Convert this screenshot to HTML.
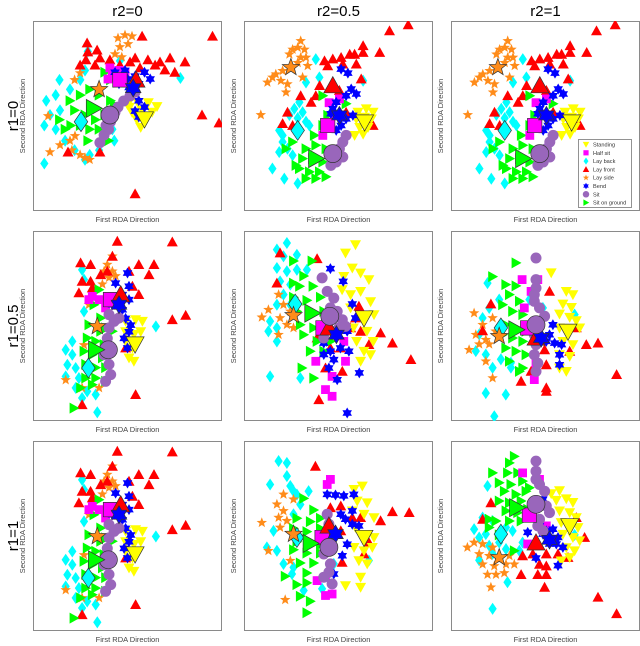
<!DOCTYPE html>
<html><head><meta charset="utf-8"><style>
html,body{margin:0;padding:0;background:#fff;}
svg{display:block;font-family:"Liberation Sans",sans-serif;}
</style></head><body>
<svg id="chart" width="640" height="646" viewBox="0 0 640 646" xmlns="http://www.w3.org/2000/svg"></svg>
<script>
// ---- classes ----
const classNames = ["Standing","Half sit","Lay back","Lay front","Lay side","Bend","Sit","Sit on ground"];
const classKeys = ["standing","halfsit","layback","layfront","layside","bend","sit","sitground"];
const colTitles = ["r2=0","r2=0.5","r2=1"];
const rowTitles = ["r1=0","r1=0.5","r1=1"];

// ---- dataset A: r1=0, r2=0 ----
const A_standing=[[50,56],[55.5,57],[61,57],[65.6,55],[52.4,52],[57.7,53],[63,52],[55,48],[60,48],[57,44],[51,54.7]];
const A_halfsit=[[42,71.6],[45.5,74],[48.7,73],[40.7,75.3],[39.7,69.5]];
const A_layback=[[7,58],[12,61],[14.3,53],[9,50.5],[6,45],[12,43],[17,37],[22,32],[27.5,27],[30,29.5],[6,25],[25,69],[27.5,74],[29,84],[46,79],[43,37],[35,32],[14,69],[19.6,64],[42,43],[78,70]];
const A_layfront=[[28.6,88.4],[29,83.7],[33.9,84.7],[28,79.5],[24.9,76.8],[32.8,76.8],[35.4,80.5],[40.7,79.5],[46,76.8],[51.3,78.4],[54,80.5],[56.6,75.3],[60.8,79.5],[64.6,76.8],[67.2,78.4],[69.8,74.2],[72.5,80.5],[80.4,78.4],[75,73],[57.7,92],[95,92],[89.4,50.5],[98.4,46.3],[54,9],[35.4,31],[18.5,31]];
const A_layside=[[45,91],[48.7,92.6],[52.4,92],[46,86.3],[50.3,87.9],[43.4,82.6],[47,81],[8,50],[24.9,72.6],[22,69],[19.6,37],[22.2,39.5],[9,31],[24.9,29.5],[27.5,28],[30,27],[20.6,32],[14.3,34.7]];
const A_bend=[[43.4,73],[48.7,74],[54,71],[59,73],[56,67],[50.8,65],[45.5,67],[56,58],[59,54.7],[54,52.6],[62,69.5],[50,69.5],[56,49.5]];
const A_sit=[[35.4,36],[37.6,40],[40,43],[41,47],[42,50.5],[45,54.7],[48,57.9],[51.3,60.5],[54,62.6],[38.6,45],[43.4,52]];
const A_sitground=[[19.6,58],[25,61],[30,64],[35,61],[41,58],[22,53],[27.5,50.5],[33,48],[38,50.5],[25,45],[30,43],[35,43],[20,45],[41,69],[38,73],[43,56],[17,43],[40,37],[29,37],[14,48]];
const A_centroids=[[59,48.4],[46,69],[25.4,47],[54.5,69],[35,64],[53,64.7],[40.7,50.5],[32,54]];

// ---- dataset B: r1=0, r2=0.5 and r2=1 ----
const B_standing=[[60.3,52],[64.7,53.8],[68.3,52],[59.4,48.5],[63.8,49.4],[67.4,48.5],[61.2,44],[65.6,44],[63,40.5],[58.5,39.8]];
const B_halfsit=[[45,57],[50.5,59],[41.7,39.8],[48.8,50.3]];
const B_layback=[[38,79.9],[39.9,70.3],[32.8,67.7],[29.3,57.2],[26.6,53.8],[31,52],[24,50.6],[28.4,48.9],[32.8,47],[18.6,42.4],[20.4,36.3],[23,32.8],[18.6,31],[25.7,29.3],[15,22.3],[21.3,17],[28.4,14.5],[63,68.6],[34.6,45],[20.4,39.8]];
const B_layfront=[[42.6,79],[47,80],[51.4,80.8],[55.9,82.5],[58.5,82.5],[63,83.4],[63,87],[71.8,83.4],[44.3,76.4],[52.3,77.3],[59.4,77.3],[62,69.5],[40,66],[38,60.7],[30,60.7],[35.5,57.2],[23,52],[20.4,46],[25.7,45],[68.3,45],[65.6,48.5],[54,52],[77,94.8],[86.9,98],[50.5,63.4]];
const B_layside=[[30,89.5],[28.4,86],[32,85],[25.7,85],[24,82.5],[30,80.8],[32.8,80.8],[28.4,78],[33.7,76.4],[20.4,73.8],[16.8,72],[15,70.3],[19.5,68.6],[23,66.8],[22.2,62.5],[31,70.3],[12.4,67.7],[8.9,50.6]];
const B_bend=[[51.4,74.7],[55,72.6],[56.7,64.2],[59.4,61.6],[48.8,57.2],[46,51.2],[50.5,50.3],[54,48.5],[57.6,50.3],[51.4,45],[48.8,42.4],[47,53.8],[54,60.7]];
const B_sit=[[50.5,32.8],[52.3,36.3],[54,39.8],[52.3,28.4],[48.8,25.8],[46,24]];
const B_sitground=[[32.8,32.8],[38,34.6],[43.4,32.8],[31,27.6],[36.3,27.6],[41.7,25.8],[29.3,22.3],[34.6,20.6],[39.9,20.6],[32.8,17.1],[38,17.1],[43.4,18],[27.5,24],[37.2,39.8],[41.7,45],[22.2,32.8],[25.7,36.3],[44.3,50.3],[41.7,60.7],[54,56.4]];
const B_centroids=[[63.8,46.8],[44.3,45],[28.4,42.4],[47,66],[24.8,75.6],[50.5,50.3],[47,30.2],[38,27.6]];

// ---- dataset C: r1=0.5 / r1=1, r2=0 ----
const C_standing=[[49,52.5],[54.3,53.3],[57.9,52.5],[49,47],[53.4,45.6],[57,47],[49,42],[52.6,38.4],[56,42],[50.8,33.2],[53.4,31.4]];
const C_halfsit=[[31.4,65.6],[35,63.9],[38.4,59.5],[29.6,63.9]];
const C_layback=[[26,79.6],[27,74.4],[27,57.7],[65,49.8],[20.8,41.9],[17.3,37.5],[20.8,34.9],[18.2,29.6],[22.6,27.9],[17.3,23.5],[24.3,22.6],[22.6,17.4],[28.7,15.6],[26,12.1],[33.2,13.9],[34,4.6]];
const C_layfront=[[44.6,94.6],[73.7,94.2],[25.2,83.2],[30.5,82.3],[42,86.7],[39.3,78.8],[35.8,77],[26,73.5],[30.5,73.5],[24.3,67.4],[31.4,70],[50.8,78.8],[56,82.3],[61.4,77],[64,82.3],[52.6,70.9],[56,66.5],[73.7,53.3],[80.8,55.6],[54.3,13.9],[26,8.6],[49,38.4]];
const C_layside=[[42,86.7],[39.3,82.3],[37.6,78.8],[42,78.8],[40.2,75.4],[36.7,72],[43.7,76.3],[27,40],[17.3,21.6],[26,17.4],[35,17.4],[29.6,61.2]];
const C_bend=[[50,77.9],[43.7,72.6],[50.8,70.9],[47.3,66.5],[50.8,63.9],[42,61.2],[47.3,58.6],[49,54],[51.7,50.5],[48.2,43.5],[50.8,47],[50,38.4]];
const C_sit=[[40.2,56],[42.9,52.5],[40.2,49],[39.3,43.5],[40,37.7],[37.6,34.9],[40.2,29.8],[41.1,24.4],[38.4,20.9],[43.7,53.3],[45.5,54.2]];
const C_sitground=[[34.9,69.1],[32.3,61.2],[35.8,54.2],[29.6,50.7],[35.8,47.2],[38.4,49],[28.7,43.7],[33.2,42],[37.6,40.2],[27,36.7],[31.4,34.9],[36.7,33.2],[27.9,29.8],[33.2,28.1],[38.4,28.1],[27.9,22.6],[33.2,22.6],[38.4,20.9],[25.2,17.4],[31.4,19.1],[21.7,6.8],[42,47.2]];
const C_centroids=[[54,40.5],[41,63.9],[29.3,27.9],[46.4,66.5],[34,49.8],[45.5,61.2],[39.9,37.5],[33.2,37.5]];

// ---- dataset D: r1=0.5, r2=0.5 ----
const D_standing=[[59,92.8],[53.7,88.4],[57.3,80.5],[61.7,77.9],[66.1,74.4],[52.8,76.1],[51.9,69.1],[56.4,66.5],[61.7,68.2],[67,62.8],[56.4,59.5],[68.8,56],[57.9,49],[65,47.2],[59.6,41.9],[68.4,41.9],[63.5,36.7],[61.7,31.4],[67,34.9]];
const D_halfsit=[[40.4,48],[52.8,41.9],[53.7,31.4],[38,31.4],[43.1,16.5],[46.6,13],[46.6,23.5]];
const D_layback=[[22.7,93.7],[17.4,90.2],[28,87.5],[20.9,86.7],[17.4,80.5],[22.7,78.8],[28,79.6],[33.3,79.6],[19.1,73.5],[24.5,71.8],[20.9,66.5],[17.4,61.2],[24.5,61.2],[13.8,52.5],[17.4,49],[12.9,47.2],[17.4,41.9],[13.8,23.5],[29.8,22.6]];
const D_layfront=[[19.1,88.4],[38.7,85.4],[17.4,72.6],[47.5,45.4],[56.4,49],[60.8,60.4],[61.7,47.2],[66.1,40.2],[72.3,46.3],[78.5,41],[88.3,32.3],[51,38.4],[45.7,38.4],[43.1,27.9],[52,26.1],[39.6,11.2],[38.7,43.7],[59,54.2]];
const D_layside=[[18.3,66.5],[20.9,61.2],[24.5,57.7],[19.1,54.2],[22.7,50.7],[12.9,58.6],[9.4,54.6],[18.3,45.4],[26.2,49]];
const D_bend=[[45.7,80.2],[52.5,73.5],[57.3,61.6],[59,54.2],[54.6,47.2],[49.3,45.4],[42.2,41],[45.7,36.7],[51,38.4],[55.5,36.7],[47.5,32.3],[42.2,35],[44.9,27.9],[49.3,21.7],[61,25.3],[54.6,4.2],[40.4,47.2]];
const D_sit=[[41.3,75.3],[44,68.2],[47.5,64.7],[45.7,59.5],[49.3,57.7],[52,53.3],[50.2,49],[53.7,49.8],[42.2,43.7]];
const D_sitground=[[26.2,84.2],[36,84.2],[31.6,76.3],[26.2,72.6],[29.4,70.9],[36.5,70.9],[26.2,65.1],[33.3,63.5],[40.4,65.1],[28,57.7],[35.1,56],[42.2,57.7],[45.7,52.5],[29.8,50.7],[36.9,49],[44,47.2],[31.6,45.4],[38.7,41.9],[45.7,41.9],[35.1,36.7],[42.2,36.7],[30.7,27.9],[36.9,22.6]];
const D_centroids=[[63.5,54.2],[41.8,49],[27.1,61.6],[44.9,49],[26.2,55.6],[48.9,45.4],[45.4,55.1],[36,56.8]];

// ---- dataset E: r1=0.5, r2=1 ----
const E_standing=[[53,78],[61,68.2],[64.5,66.5],[59.2,61.6],[63.7,59.8],[57.4,56.3],[62.8,54.6],[66.3,52.8],[57.4,49],[68.1,49],[59.2,41.9],[64.5,40.2],[57.4,34.9],[62.8,34],[61,26.1],[57.4,27.9]];
const E_halfsit=[[37.6,74.4],[45.9,74.4],[42.4,68.2],[45,30.5],[44.1,21.8],[38.8,59.5]];
const E_layback=[[19.3,72.6],[25.5,63.9],[20.2,59.5],[16.7,54.2],[14.9,45.6],[13.1,36.8],[18.4,35],[26.4,32.5],[22,28],[31.7,30.7],[41.5,63.9],[48.6,59.5],[65.4,56],[18.4,14.7],[29,13.9],[22.9,2.5],[31.7,28.1]];
const E_layfront=[[52.1,68.2],[21.1,61.6],[16.7,47.5],[49.5,37.5],[62.8,36.7],[66.3,49],[71.6,40.2],[77.8,41],[87.6,24.4],[50.4,29.6],[42.4,26.1],[37.1,20.9],[50.4,15.6],[50.4,17.4]];
const E_layside=[[12.2,56.8],[16.7,50.7],[22,54.2],[13.1,45.4],[18.4,42.8],[23.6,47.2],[20.2,40.4],[14.9,40.4],[9.6,37.5],[18.4,31.4],[22,22.6]];
const E_bend=[[53.9,50.7],[52.1,45.4],[54.8,41],[58.5,40.2],[50.4,41.9],[57.4,34.9],[57.4,29.6]];
const E_sit=[[45,85.8],[45,74.4],[45,70],[44.1,66.5],[44.1,63],[46.8,59.5],[49.5,55.1],[44.1,45.4],[45,40.2],[44.1,34.9],[45,26.1],[45.9,30.5]];
const E_sitground=[[34.4,83.2],[22,76],[29,71.8],[34.4,71.1],[30.9,66.5],[36.2,63],[27.3,61.2],[32.6,57.7],[38,56],[29,50.7],[34.4,49],[39.7,47.2],[27.3,45.4],[32.6,43.7],[38,41.9],[29,38.4],[34.4,36.7],[39.7,34.9],[30.9,31.4],[36.2,26.1],[38,27.9]];
const E_centroids=[[61.9,47.2],[40.6,49],[26.4,49],[45,43.7],[25.5,44.6],[47.7,43.7],[45,50.7],[34.4,48]];

// ---- dataset F: r1=1, r2=0.5 ----
const F_standing=[[58.2,74.5],[62.6,76.3],[59.9,68.4],[65.2,67.5],[57.3,63.2],[63.5,61.4],[68.8,59.7],[59,54.5],[68.8,49.2],[58.2,44],[63.5,42.2],[67.9,44],[60.8,37],[65.2,35.3],[61.7,28.3],[61.7,23],[53.7,23.9]];
const F_halfsit=[[45.7,79.8],[44,77.1],[38.7,26.5],[43.1,28.3],[43.1,18.7],[46.6,19.5]];
const F_layback=[[18.3,89.4],[22.7,88.5],[22.7,81.5],[13.8,77.1],[24.5,76.3],[26.2,73.6],[28,71.8],[34.2,73.6],[29.8,66.6],[26.2,61.4],[15.6,52.7],[12.1,44],[17.4,42.2],[20.9,35.3],[26.2,33.5],[25.4,30],[31.6,21.3],[41.3,22.2],[47.5,35.3],[66.1,37.1]];
const F_layfront=[[37.8,86.7],[45.7,64.9],[51.2,65.8],[57.3,59.7],[61.7,59.7],[72.3,58],[78.5,62.8],[87.4,62.3],[51.9,36.1],[63.5,40.5],[66.1,46.6],[51.2,52.7]];
const F_layside=[[20.9,71.9],[17.4,66.7],[20.9,63.2],[18.3,59.7],[22.7,58],[19.1,54.5],[9.4,57],[24.5,37],[12.9,42.2],[21.8,16.4],[26.2,69.3]];
const F_bend=[[44,71.9],[48.4,71.6],[52.8,71.1],[58.1,71.9],[57.3,63.2],[60.8,55.3],[53.7,58.8],[54.6,45.7],[52,39.6],[47.5,30],[57.3,56.2],[51.2,61.4]];
const F_sit=[[44,61.4],[44.9,56.2],[45.7,51],[42.2,40.5],[45.7,35.3],[42.2,28.3],[46.6,24.8],[44.9,30.9]];
const F_sitground=[[31.6,69.8],[36.9,63.7],[28,59.3],[35.1,57.6],[40.4,59.3],[26.2,54],[33.3,52.3],[40.4,54],[45.7,52.3],[28,47],[35.1,45.3],[40.4,45.3],[26.2,42.8],[33.3,41],[40.4,41],[29.8,35.8],[36.9,35.8],[33.3,30.5],[28,24.4],[33.3,25.3],[29.8,18.3],[35.1,15.7],[33.3,9.6],[21.8,28.8]];
const F_centroids=[[63.5,49.2],[41.3,49.2],[28,49.2],[44.9,55.3],[26.2,51],[48.4,51],[44.9,44],[35.1,46.1]];

// ---- dataset G: r1=1, r2=1 ----
const G_standing=[[53,72.3],[57.4,73.9],[55.7,68.8],[61,69.6],[64.5,67.7],[57.4,63.2],[62.8,62.3],[66.3,59.7],[58.3,57.1],[67.2,54.5],[59.2,50.9],[64.5,49.2],[68.1,47.5],[61,43.9],[65.4,42.2],[62.8,38.7],[58.3,36.9]];
const G_halfsit=[[37.9,83.2],[46.8,79.8],[50.4,55.3],[40.6,45.8]];
const G_layback=[[19.3,76.3],[16.7,59.7],[12.2,53.6],[14.9,49.2],[18.4,51],[22,57.9],[29.1,54.5],[32.6,52.7],[20.2,44.9],[25.5,46.6],[29.1,43.1],[37.9,46.6],[14.9,37.2],[22,40.7],[65.4,50.6],[29.9,25.7],[22,11.7],[36.2,42.2]];
const G_layfront=[[21.1,67.5],[16.7,58.8],[37.9,39.6],[43.3,40.5],[50.4,40.5],[56.6,40.5],[61.9,38.7],[66.3,59.7],[70.7,49.2],[46.8,35.1],[50.4,34.2],[45.9,29.7],[50.4,29.7],[37.1,29.7],[49.5,23],[77.8,17.8],[87.6,9.1]];
const G_layside=[[12.2,46.6],[8.7,44],[16.7,45.8],[22,44],[14.9,40.5],[20.2,39.6],[30.9,39.6],[16.7,35.1],[22.9,34.2],[29.1,35.1],[33.5,35.1],[19.3,29.7],[23.8,29.7],[28.2,30.5],[21.1,23]];
const G_bend=[[48.6,69.3],[46.8,55.3],[50.4,52.7],[53.9,53.6],[48.6,51],[52.1,49.2],[56.6,49.2],[55.7,45.8],[52.1,45.8],[59.2,44],[45,38.4],[56.6,34.4],[40.6,51.9]];
const G_sit=[[45,89.4],[45,84.1],[45,79.8],[46.8,77.1],[49.5,73.6],[50.4,65.8],[52.1,62.3],[46.8,58.8],[45.9,55.3],[48.6,52.7]];
const G_sitground=[[33.5,91.9],[30.9,88.5],[22,83.2],[29.9,83.2],[35.3,83.2],[25.5,78],[31.7,77.1],[37.9,78.9],[28.2,73.6],[34.4,71.9],[39.7,73.6],[25.5,68.4],[30.9,67.5],[37.1,68.4],[29.1,63.2],[35.3,62.3],[40.6,64.1],[23.8,57.9],[30.9,57.9],[37.1,57.9],[20.2,58.8],[20.2,54.5],[33.5,42.2],[25.5,50.6],[41.5,75.4]];
const G_centroids=[[62.8,55.3],[41.5,61],[26.4,51],[45,46.4],[25.5,38.7],[52.1,48],[45,66.7],[34.8,64.9]];

const datasets = {
  A:[A_standing,A_halfsit,A_layback,A_layfront,A_layside,A_bend,A_sit,A_sitground,A_centroids],
  B:[B_standing,B_halfsit,B_layback,B_layfront,B_layside,B_bend,B_sit,B_sitground,B_centroids],
  C:[C_standing,C_halfsit,C_layback,C_layfront,C_layside,C_bend,C_sit,C_sitground,C_centroids],
  D:[D_standing,D_halfsit,D_layback,D_layfront,D_layside,D_bend,D_sit,D_sitground,D_centroids],
  E:[E_standing,E_halfsit,E_layback,E_layfront,E_layside,E_bend,E_sit,E_sitground,E_centroids],
  F:[F_standing,F_halfsit,F_layback,F_layfront,F_layside,F_bend,F_sit,F_sitground,F_centroids],
  G:[G_standing,G_halfsit,G_layback,G_layfront,G_layside,G_bend,G_sit,G_sitground,G_centroids]
};
const panelGrid = [["A","B","B"],["C","D","E"],["C","F","G"]];

// ---- layout ----
const colX=[33,244,451], rowY=[21,231,441], PW=189, PH=190;
const colors=["#ffff00","#ff00ff","#00ffff","#ff0000","#ff8c1a","#0000ff","#9966bb","#00ff00"];
const drawOrder=[2,4,3,7,0,1,5,6];
const PT=11, CT=18;

const NS="http://www.w3.org/2000/svg";
const svg=document.getElementById('chart');
function mk(tag,attrs,parent){const e=document.createElementNS(NS,tag);for(const k in attrs)e.setAttribute(k,attrs[k]);(parent||svg).appendChild(e);return e;}

function markerPath(t,s){
  const h=s/2;
  switch(t){
    case 0: return `M${-h},${-h*0.8}L${h},${-h*0.8}L0,${h}Z`;
    case 1: return `M${-h*0.8},${-h*0.8}h${1.6*h}v${1.6*h}h${-1.6*h}Z`;
    case 2: return `M0,${-h*1.1}L${h*0.75},0L0,${h*1.1}L${-h*0.75},0Z`;
    case 3: return `M${-h},${h*0.8}L${h},${h*0.8}L0,${-h}Z`;
    case 4: { let p=""; for(let i=0;i<10;i++){const r=i%2?h*0.42:h;const a=-Math.PI/2+i*Math.PI/5;p+=(i?"L":"M")+(r*Math.cos(a)).toFixed(2)+","+(r*Math.sin(a)).toFixed(2);} return p+"Z"; }
    case 5: { let p=""; for(let i=0;i<12;i++){const r=i%2?h*0.58:h;const a=-Math.PI/2+i*Math.PI/6;p+=(i?"L":"M")+(r*Math.cos(a)).toFixed(2)+","+(r*Math.sin(a)).toFixed(2);} return p+"Z"; }
    case 6: return `M${-h},0a${h},${h} 0 1,0 ${2*h},0a${h},${h} 0 1,0 ${-2*h},0Z`;
    case 7: return `M${-h*0.8},${-h}L${h},0L${-h*0.8},${h}Z`;
  }
}

// titles
colTitles.forEach((t,i)=>{
  const e=mk('text',{x:colX[i]+PW/2,y:16,'text-anchor':'middle','font-size':'15',fill:'#000'});
  e.textContent=t;
  
  
});
rowTitles.forEach((t,i)=>{
  const cy=rowY[i]+PH/2;
  const e=mk('text',{x:0,y:0,transform:`translate(18,${cy}) rotate(-90)`,'text-anchor':'middle','font-size':'15',fill:'#000'});
  e.textContent=t;
  
  
});

for(let r=0;r<3;r++)for(let c=0;c<3;c++){
  const px=colX[c], py=rowY[r];
  const g=mk('g',{});
  
  
  const cp=mk('clipPath',{id:`cp${r}${c}`},g);
  mk('rect',{x:px,y:py,width:PW,height:PH},cp);
  mk('rect',{x:px+0.5,y:py+0.5,width:PW-1,height:PH-1,fill:'#fff',stroke:'#8a8a8a','stroke-width':1},g);
  const xs=u=>px+u/100*PW;
  const ys=v=>py+PH-v/100*PH;
  const ds=datasets[panelGrid[r][c]];
  const pts=mk('g',{'clip-path':`url(#cp${r}${c})`},g);
  drawOrder.forEach(k=>{
    ds[k].forEach(p=>{
      const m=mk('path',{d:markerPath(k,PT),transform:`translate(${xs(p[0]).toFixed(1)},${ys(p[1]).toFixed(1)})`,fill:colors[k]},pts);
      
      
    });
  });
  ds[8].forEach((p,k)=>{
    const m=mk('path',{d:markerPath(k,CT),transform:`translate(${xs(p[0]).toFixed(1)},${ys(p[1]).toFixed(1)})`,fill:colors[k],stroke:'#333','stroke-width':0.7},pts);
    
    
  });
  const xl=mk('text',{x:px+PW/2,y:py+PH+11,'text-anchor':'middle','font-size':'7.5',fill:'#444'},g);
  xl.textContent='First RDA Direction';
  
  
  const yl=mk('text',{x:0,y:0,transform:`translate(${px-8},${py+PH/2}) rotate(-90)`,'text-anchor':'middle','font-size':'7.5',fill:'#444'},g);
  yl.textContent='Second RDA Direction';
  
  
}

// legend
const lg=mk('g',{});


mk('rect',{x:578.5,y:139.5,width:53,height:68,fill:'#fff',stroke:'#777','stroke-width':0.8},lg);
classNames.forEach((n,k)=>{
  const y=144.5+k*8.3;
  const m=mk('path',{d:markerPath(k,6.5),transform:`translate(586,${y})`,fill:colors[k]},lg);
  
  
  const t=mk('text',{x:593,y:y+2,'font-size':'5.6',fill:'#333'},lg);
  t.textContent=n;
  
  
});
</script>
</body></html>
